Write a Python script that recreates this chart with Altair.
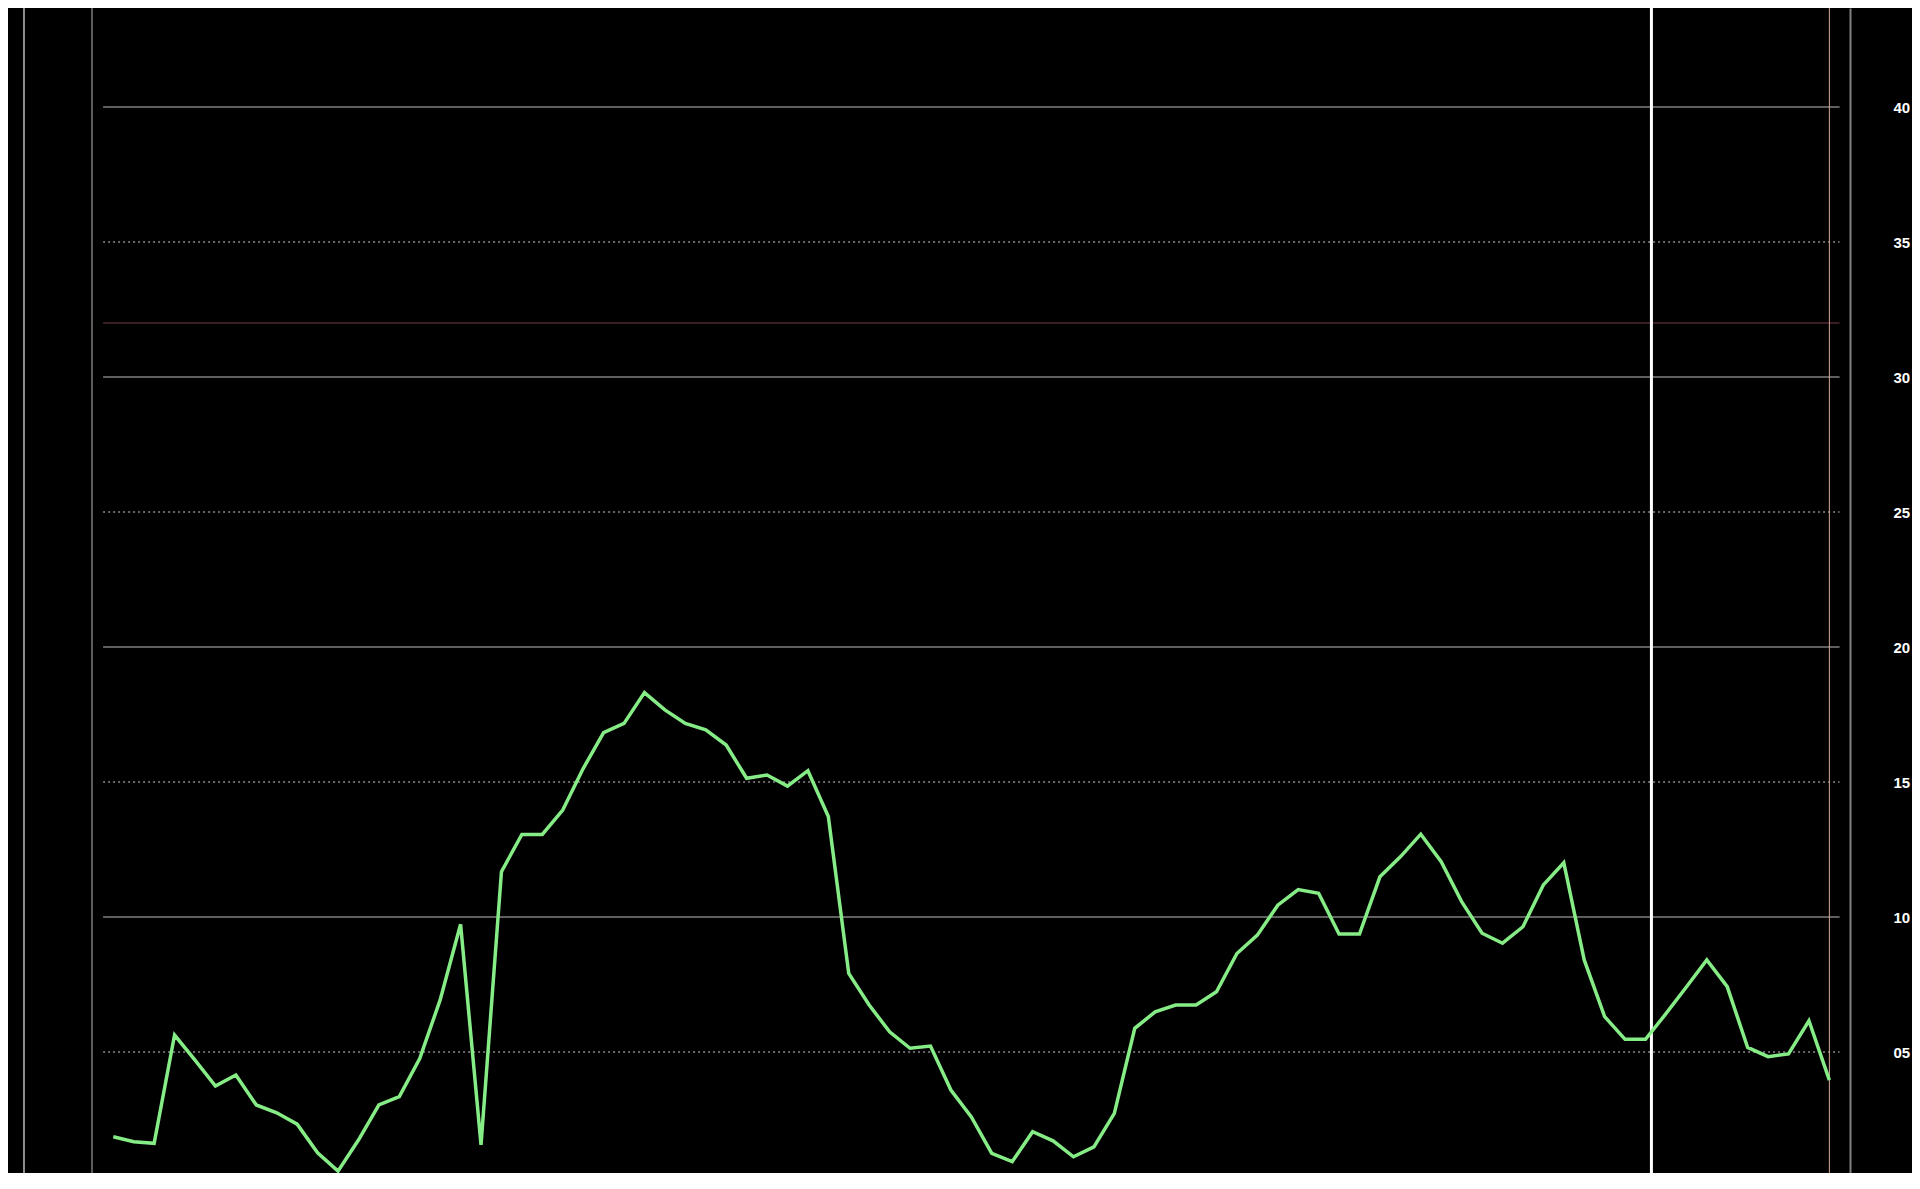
import altair as alt
import pandas as pd

# ---- data ----
values = [1.86, 1.68, 1.62, 5.63, 4.70, 3.74, 4.15, 3.04, 2.75, 2.33, 1.27, 0.59, 1.74, 3.04, 3.35, 4.76, 6.93, 9.73,
          1.56, 11.68, 13.06, 13.06, 13.96, 15.50, 16.83, 17.17, 18.31, 17.67, 17.17, 16.93, 16.37, 15.14, 15.26, 14.85, 15.42,
          13.72, 7.91, 6.74, 5.75, 5.14, 5.22, 3.59, 2.60, 1.25, 0.94, 2.05, 1.71, 1.12, 1.49, 2.73, 5.88, 6.49,
          6.74, 6.74, 7.23, 8.65, 9.33, 10.44, 11.02, 10.88, 9.37, 9.37, 11.49, 12.23, 13.07, 12.05, 10.57, 9.40, 9.03,
          9.64, 11.19, 12.01, 8.41, 6.31, 5.47, 5.47, 6.42, 7.41, 8.41, 7.42, 5.17, 4.83, 4.93, 6.16, 3.96]
solid_levels = [10, 20, 30, 40]
dotted_levels = [5, 15, 25, 35]
marker_level = [32]
tick_values = [5, 10, 15, 20, 25, 30, 35, 40]

idx = list(range(len(values)))
df = pd.DataFrame({"i": idx, "v": values})

# ---- layout ----
W, H = 1842, 1165
XDOM = [-5.154, 85.01]
YDOM = [0.52, 43.667]
xs = alt.Scale(domain=XDOM, nice=False, zero=False)
ys = alt.Scale(domain=YDOM, nice=False, zero=False)
GRID_X0, GRID_X1 = -0.5, len(values) - 0.5
CURSOR_X = 75.29
LAST_X = len(values) - 1

Y_AXIS = alt.Axis(
    orient="right", values=tick_values, format="02d", title=None,
    ticks=False, grid=False, domain=True, domainColor="#808080", domainWidth=2,
    labelColor="#ffffff",
    labelFont="'Liberation Sans', Arial, sans-serif",
    labelFontSize=15, labelFontWeight="bold", labelPadding=43,
    labelAlign="left", labelBaseline="middle")


def hgrid(levels):
    return pd.DataFrame({"y": levels, "x0": [GRID_X0] * len(levels), "x1": [GRID_X1] * len(levels)})


def hrule(levels, **style):
    return alt.Chart(hgrid(levels)).mark_rule(**style).encode(
        y=alt.Y("y:Q", scale=ys, axis=Y_AXIS),
        x=alt.X("x0:Q", scale=xs, axis=None),
        x2="x1:Q")


def vrule(xpos, **style):
    return alt.Chart(pd.DataFrame({"x": [xpos]})).mark_rule(**style).encode(
        x=alt.X("x:Q", scale=xs, axis=None),
        y=alt.value(0), y2=alt.value(H))


solid = hrule(solid_levels, color="#7f7f7f", strokeWidth=1.5)
dotted = hrule(dotted_levels, color="#8a8a8a", strokeWidth=1.5, strokeDash=[2, 3])
marker = hrule(marker_level, color="#3c1e22", strokeWidth=2)

left1 = vrule(-4.371, color="#8c8c8c", strokeWidth=2)
left2 = vrule(-1.043, color="#7a7a7a", strokeWidth=1.5)
cursor = vrule(CURSOR_X, color="#ffffff", strokeWidth=3)
lastline = vrule(LAST_X, color="#d8a898", strokeWidth=1)

line = alt.Chart(df).mark_line(color="#86ec86", strokeWidth=3.5).encode(
    x=alt.X("i:Q", scale=xs, axis=None),
    y=alt.Y("v:Q", scale=ys, axis=Y_AXIS))

chart = alt.layer(solid, dotted, marker, left1, left2, cursor, lastline, line).properties(
    width=W, height=H, background="black",
    padding={"left": 0, "top": 0, "right": 62, "bottom": 0},
    autosize=alt.AutoSizeParams(type="none"),
).configure_view(strokeWidth=0)

chart.save("out.html", embed_options={"renderer": "svg", "actions": False})
